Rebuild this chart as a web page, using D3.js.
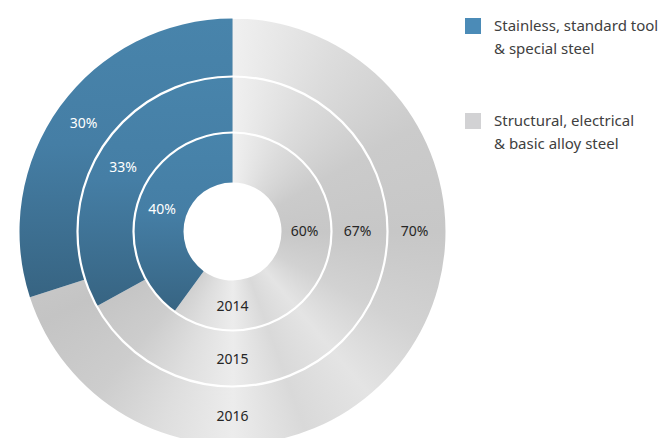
<!DOCTYPE html>
<meta charset="utf-8">
<style>
body { margin: 0; background: #fff; }
text { font-family: "Noto Sans", "Open Sans", sans-serif; }
.pct { font-size: 14px; }
.year { font-size: 14px; fill: #262626; }
.legend text { font-size: 15px; fill: #404040; }
</style>
<svg width="667" height="438"></svg>
<script src="https://cdn.jsdelivr.net/npm/d3@7/dist/d3.min.js"></script>
<script>

// data
var years = ["2014", "2015", "2016"];
var structuralShare = [60, 67, 70];   // grey
var specialShare = [40, 33, 30];      // blue
var seriesNames = [
  ["Stainless, standard tool", "& special steel"],
  ["Structural, electrical", "& basic alloy steel"]
];

var svg = d3.select("svg"),
    cx = 232.5, cy = 231.5,
    radii = [49, 99, 155, 213];   // ring edges, inner year first

var defs = svg.append("defs");

var blueGrad = defs.append("linearGradient")
    .attr("id", "blueGrad")
    .attr("x1", 0).attr("y1", 0).attr("x2", 0).attr("y2", 1);
blueGrad.append("stop").attr("offset", "0%").attr("stop-color", "#4884ab");
blueGrad.append("stop").attr("offset", "45%").attr("stop-color", "#457ea5");
blueGrad.append("stop").attr("offset", "100%").attr("stop-color", "#376482");

var pie = d3.pie().sort(null).value(function(d) { return d.value; });

var rings = years.map(function(y, i) {
  return {
    year: y,
    inner: radii[i],
    outer: radii[i + 1],
    arcs: pie([
      {key: "grey", value: structuralShare[i]},
      {key: "blue", value: specialShare[i]}
    ])
  };
});

// grey slices become a clip for a metallic conic fill
var clip = defs.append("clipPath").attr("id", "greyClip");
rings.forEach(function(r) {
  var arc = d3.arc().innerRadius(r.inner).outerRadius(r.outer);
  clip.append("path")
      .attr("transform", "translate(" + cx + "," + cy + ")")
      .attr("d", arc(r.arcs[0]));
});

var fo = svg.append("foreignObject")
    .attr("x", cx - radii[3]).attr("y", cy - radii[3])
    .attr("width", radii[3] * 2).attr("height", radii[3] * 2)
    .attr("clip-path", "url(#greyClip)");
fo.append("xhtml:div")
    .style("width", "100%").style("height", "100%")
    .style("background", "conic-gradient(from 0deg at 50% 50%, #f0f0f0 0deg, #dcdcdc 30deg, #cbcbcb 60deg, #c7c7c7 90deg, #d2d2d2 118deg, #e4e4e4 140deg, #d9d9d9 160deg, #ececec 180deg, #dedede 200deg, #cdcdcd 220deg, #c4c4c4 245deg, #c9c9c9 260deg)");

var g = svg.append("g").attr("transform", "translate(" + cx + "," + cy + ")");

// blue slices
rings.forEach(function(r) {
  var arc = d3.arc().innerRadius(r.inner).outerRadius(r.outer);
  g.append("path")
      .attr("d", arc(r.arcs[1]))
      .attr("fill", "url(#blueGrad)");
});

// white separators between rings
g.selectAll(".sep")
    .data(radii.slice(1, 3))
  .enter().append("circle")
    .attr("r", function(d) { return d; })
    .attr("fill", "none")
    .attr("stroke", "#fff")
    .attr("stroke-width", 2.2);

// labels
rings.forEach(function(r) {
  var mid = (r.inner + r.outer) / 2;
  var labelArc = d3.arc().innerRadius(mid).outerRadius(mid);
  var b = r.arcs[1];
  g.append("text")
      .attr("class", "pct")
      .attr("transform", "translate(" + labelArc.centroid(b) + ")")
      .attr("text-anchor", "middle")
      .attr("dy", "0.35em")
      .attr("fill", "#fff")
      .text(b.data.value + "%");
  // grey label sits at 3 o'clock
  g.append("text")
      .attr("class", "pct")
      .attr("x", mid - 2)
      .attr("text-anchor", "middle")
      .attr("dy", "0.35em")
      .attr("fill", "#262626")
      .text(r.arcs[0].data.value + "%");
  g.append("text")
      .attr("class", "year")
      .attr("y", mid + 1)
      .attr("text-anchor", "middle")
      .attr("dy", "0.35em")
      .text(r.year);
});

// legend
var legend = svg.append("g").attr("class", "legend");
var swatch = ["#4b8bb7", "#d2d2d4"];
seriesNames.forEach(function(lines, i) {
  var y0 = 18 + i * 95;
  legend.append("rect")
      .attr("x", 465).attr("y", y0)
      .attr("width", 16).attr("height", 16)
      .attr("fill", swatch[i]);
  var t = legend.append("text").attr("x", 494).attr("y", y0 + 13);
  lines.forEach(function(l, j) {
    t.append("tspan").attr("x", 494).attr("dy", j ? 23 : 0).text(l);
  });
});

</script>
